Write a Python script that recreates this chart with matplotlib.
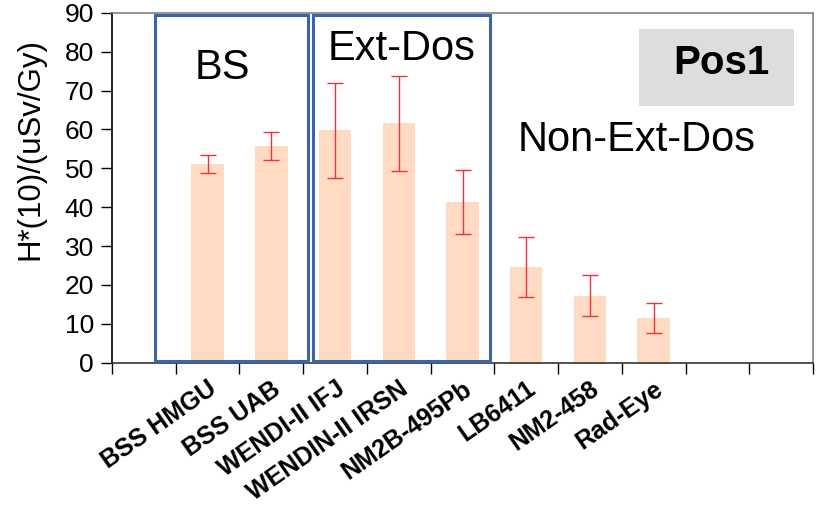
import numpy as np
import matplotlib.pyplot as plt
from matplotlib.patches import Rectangle

plt.rcParams['font.family'] = ['Liberation Sans', 'DejaVu Sans']

detectors = ["BSS HMGU", "BSS UAB", "WENDI-II IFJ", "WENDIN-II IRSN",
             "NM2B-495Pb", "LB6411", "NM2-458", "Rad-Eye"]
h10 = [51.1, 55.7, 59.8, 61.6, 41.3, 24.6, 17.2, 11.5]
h10_err = [2.3, 3.6, 12.2, 12.2, 8.3, 7.7, 5.3, 3.9]
yticks = list(range(0, 91, 10))

n_slots = 11
pos = np.arange(2, 2 + len(detectors))

fig = plt.figure(figsize=(8.16, 5.09), dpi=100)
ax = fig.add_axes([0.1373, 0.2874, 0.8590, 0.6876])

ax.bar(pos, h10, width=0.51, color='#ffdbc4', zorder=1)
ax.errorbar(pos, h10, yerr=h10_err, fmt='none', ecolor='#f0303a',
            elinewidth=1, capsize=5.5, capthick=1, zorder=2)

# group boxes
ax.add_patch(Rectangle((1.175, 0.5), 3.577 - 1.175, 88.9, fill=False,
                       edgecolor='#3a66a8', lw=2.2, zorder=3, clip_on=False))
ax.add_patch(Rectangle((3.655, 0.5), 6.434 - 3.655, 88.9, fill=False,
                       edgecolor='#3a66a8', lw=2.2, zorder=3, clip_on=False))

# Pos1 label box
ax.add_patch(Rectangle((8.773, 66.0), 11.207 - 8.773, 85.8 - 66.0,
                       facecolor='#dddddd', edgecolor='none', zorder=1))

ax.text(2.227, 75.8, "BS", fontsize=30, ha='center', va='center')
ax.text(5.04, 80.7, "Ext-Dos", fontsize=30, ha='center', va='center')
ax.text(8.73, 57.3, "Non-Ext-Dos", fontsize=30, ha='center', va='center')
ax.text(10.06, 77.2, "Pos1", fontsize=29, fontweight='bold',
        ha='center', va='center', zorder=2)

ax.set_xlim(0.5, n_slots + 0.5)
ax.set_ylim(0, 90)
ax.set_yticks(yticks)
ax.tick_params(axis='y', labelsize=19, direction='out', length=8, width=1, pad=5)
ax.set_xticks(np.arange(0.5, n_slots + 1, 1))
ax.set_xticklabels([])
ax.tick_params(axis='x', direction='out', length=8, width=1)
ax.set_xticks(pos, minor=True)
ax.set_xticklabels(detectors, minor=True, rotation=35, ha='right', va='top',
                   rotation_mode='anchor', fontsize=18, fontweight='bold')
ax.tick_params(axis='x', which='minor', length=0, pad=10)
ax.set_ylabel("H*(10)/(uSv/Gy)", fontsize=22.5)
ax.yaxis.set_label_coords(-0.0956, 0.61)

ax.spines['top'].set_color('#808080')
ax.spines['right'].set_color('#808080')
ax.spines['bottom'].set_color('#333333')
ax.spines['left'].set_color('black')
for s in ax.spines.values():
    s.set_linewidth(1.2)

plt.savefig("out.png", dpi=100)
